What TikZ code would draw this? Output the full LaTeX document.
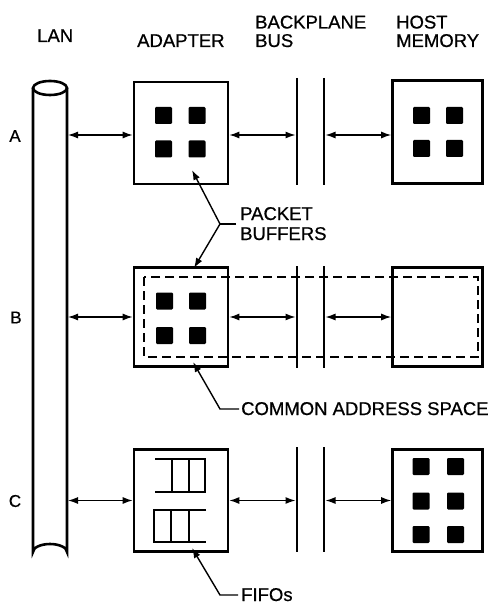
\documentclass[tikz,border=0pt]{standalone}
\usepackage{fontspec}
\setmainfont{Liberation Sans}[FakeBold=0.7]
\usetikzlibrary{arrows.meta}
\begin{document}
\begin{tikzpicture}[x=1pt,y=-1pt,
  box/.style={draw, line width=2.6pt, inner sep=0pt, minimum width=94pt, minimum height=102pt},
  hbox/.style={box, minimum width=90pt},
  blk/.style={fill, rounded corners=1.2pt, minimum size=17pt, inner sep=0pt},
  arr/.style={{Latex[length=10pt,width=7pt]}-{Latex[length=10pt,width=7pt]}, line width=1.3pt},
  lead/.style={-{Latex[length=10pt,width=7pt]}, line width=1.4pt},
  bus/.style={line width=2.4pt},
  fifo/.style={line width=1.7pt},
  lbl/.style={font=\fontsize{18.5}{21}\selectfont, inner sep=0pt, anchor=base west},
  rowlbl/.style={font=\fontsize{17}{19}\selectfont, inner sep=0pt}
]
\useasboundingbox (0,0) rectangle (494,604);

% headers
\node[lbl] (hLAN) at (37,42) {LAN};
\node[lbl] (hAD) at (137,47) {ADAPTER};
\node[lbl] (hBP) at (255,28.5) {BACKPLANE};
\node[lbl] (hBUS) at (255,47) {BUS};
\node[lbl] (hHO) at (396,28.5) {HOST};
\node[lbl] (hME) at (396,47) {MEMORY};

% row labels
\node[rowlbl] (rA) at (15,136) {A};
\node[rowlbl] (rB) at (16,317.5) {B};
\node[rowlbl] (rC) at (15,501) {C};

% LAN cylinder
\draw[line width=2.6pt] (33,88) -- (33,552) arc[start angle=180, end angle=360, x radius=17, y radius=8] -- (67,88);
\draw[line width=2.6pt] (50,88) ellipse[x radius=17, y radius=7];
\coordinate (lanR) at (68,0);

% bus lines
\coordinate (b1) at (295.5,0);
\coordinate (b2) at (325.5,0);
\draw[bus] (297,78) -- (297,185);
\draw[bus] (324,78) -- (324,185);
\draw[bus] (297,266) -- (297,368);
\draw[bus] (324,266) -- (324,368);
\draw[bus] (297,447) -- (297,552);
\draw[bus] (324,447) -- (324,552);

% Row A
\node[box] (adA) at (181,133) {};
\node[hbox, minimum height=103pt] (hoA) at (437.5,132) {};
\node[blk] (a1) at (163.5,115.5) {};
\node[blk] (a2) at (197,115.5) {};
\node[blk] (a3) at (163.5,149) {};
\node[blk] (a4) at (197,149) {};
\node[blk] (h1) at (421.5,115.5) {};
\node[blk] (h2) at (454.5,115.5) {};
\node[blk] (h3) at (421.5,148.5) {};
\node[blk] (h4) at (454.5,148.5) {};
\draw[arr] (lanR |- 0,135) -- (adA.west |- 0,135);
\draw[arr] (adA.east |- 0,135) -- (b1 |- 0,135);
\draw[arr] (b2 |- 0,135) -- (hoA.west |- 0,135);

% Row B
\node[box, minimum height=99pt] (adB) at (181,317) {};
\node[hbox, minimum height=99pt] (hoB) at (437.5,317) {};
\node[blk] (b1a) at (164.5,301) {};
\node[blk] (b2a) at (197.5,301) {};
\node[blk] (b3a) at (164.5,335.5) {};
\node[blk] (b4a) at (197.5,335.5) {};
\draw[dashed, line width=1.8pt, dash pattern=on 9pt off 5pt] (144,277) rectangle (478,357);
\draw[arr] (lanR |- adB.west) -- (adB.west);
\draw[arr] (adB.east) -- (b1 |- adB.east);
\draw[arr] (b2 |- hoB.west) -- (hoB.west);

% Row C
\node[box] (adC) at (181,500.5) {};
\node[hbox] (hoC) at (437.5,500.5) {};
\node[blk] (c1) at (421,466.5) {};
\node[blk] (c2) at (455.5,466.5) {};
\node[blk] (c3) at (421,501) {};
\node[blk] (c4) at (455.5,501) {};
\node[blk] (c5) at (421,534.5) {};
\node[blk] (c6) at (455.5,534.5) {};
\draw[fifo] (155,459) -- (205,459) -- (205,492) -- (155,492);
\draw[fifo] (172,459) -- (172,492);
\draw[fifo] (189,459) -- (189,492);
\draw[fifo] (206,510) -- (154,510) -- (154,542) -- (206,542);
\draw[fifo] (171,510) -- (171,542);
\draw[fifo] (189,510) -- (189,542);
\draw[arr] (lanR |- adC.west) -- (adC.west);
\draw[arr] (adC.east) -- (b1 |- adC.east);
\draw[arr] (b2 |- hoC.west) -- (hoC.west);

% annotations
\node[lbl] (pk) at (240,220) {PACKET};
\node[lbl] (bf) at (240,240) {BUFFERS};
\coordinate (pj) at (220,224);
\coordinate (pt1) at (192,170);
\coordinate (pt2) at (194,268);
\draw[line width=1.4pt] (236,224) -- (pj);
\draw[lead] (pj) -- (pt1);
\draw[lead] (pj) -- (pt2);

\node[lbl] (cas) at (241,415) {COMMON ADDRESS SPACE};
\coordinate (cj) at (220,409);
\coordinate (ct) at (193,362);
\draw[lead] (cas.west |- cj) ++(-2,0) -- (cj) -- (ct);

\node[lbl] (ff) at (241,601) {FIFOs};
\coordinate (fj) at (220,595);
\coordinate (ft) at (192,548);
\draw[lead] (ff.west |- fj) ++(-3,0) -- (fj) -- (ft);
\end{tikzpicture}
\end{document}
